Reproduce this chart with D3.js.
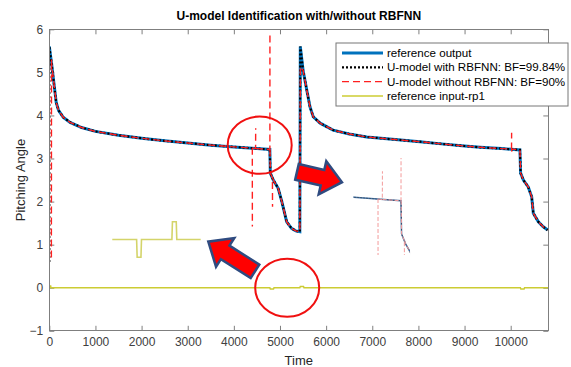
<!DOCTYPE html>
<meta charset="utf-8">
<style>

body {
  margin: 0;
  background: #fff;
}

svg {
  font-family: "Liberation Sans", Arial, sans-serif;
}

.axis path {
  display: none;
}

.axis line {
  stroke: #7f7f7f;
}

.axis text {
  fill: #404040;
  font-size: 12px;
}

.frame {
  fill: none;
  stroke: #7f7f7f;
  shape-rendering: crispEdges;
}

.legend text {
  font-size: 11.6px;
  fill: #000;
}

</style>
<body>
<script src="https://cdn.jsdelivr.net/npm/d3@7"></script>
<script>

var width = 571,
    height = 367;

// reference output (time, pitching angle)
var refOutput = [
  [0, 5.6], [50, 5.2], [100, 4.75], [150, 4.3], [200, 4.12], [300, 3.96], [450, 3.84],
  [700, 3.72], [1000, 3.63], [1500, 3.54], [2000, 3.47], [2500, 3.41], [3000, 3.36],
  [3500, 3.31], [4000, 3.27], [4500, 3.23], [4780, 3.21], [4790, 2.66], [4855, 2.5],
  [4960, 2.31], [5040, 2.0], [5145, 1.53], [5250, 1.38], [5340, 1.32], [5430, 1.3],
  [5440, 5.6], [5500, 5.05], [5580, 4.59], [5650, 4.2], [5720, 3.97], [5870, 3.82],
  [6150, 3.66], [6500, 3.57], [6880, 3.5], [7500, 3.44], [8030, 3.39], [8500, 3.34],
  [9000, 3.29], [9340, 3.26], [9800, 3.23], [10200, 3.2], [10215, 2.66], [10275, 2.5],
  [10380, 2.34], [10455, 2.11], [10490, 1.73], [10600, 1.53], [10700, 1.42], [10800, 1.34]
];

// U-model with RBFNN: follows the reference, starts from a low value
var rbfStart = [[0, 0.6]];

// U-model without RBFNN: deviations from the reference (null = pen lifted)
var noRbfSpikes = [
  [45, 0.7], [48, 5.3],
  [4400, 3.24], [4401, 1.42], [4402, null], [4404, 3.24],
  [4471, 3.23], [4473, 3.7], [4474, null], [4476, 3.23],
  [4781, 3.21], [4782, 5.87], [4783, null], [4784, 3.21],
  [4836, 2.55], [4838, 1.88], [4839, null], [4841, 2.55],
  [5441, 5.13],
  [10018, 3.22], [10020, 3.6], [10021, null], [10022, 3.16], [10024, 3.22]
];

// reference input rp1
var refInput = [
  [0, 0], [10, 0.04], [30, 0.04], [35, 0], [4780, 0], [4790, -0.03], [4860, -0.03],
  [4870, 0], [5430, 0], [5440, 0.03], [5510, 0.03], [5520, 0], [10210, 0],
  [10220, -0.03], [10290, -0.03], [10300, 0], [10815, 0]
];

var xTicks = [0, 1000, 2000, 3000, 4000, 5000, 6000, 7000, 8000, 9000, 10000],
    yTicks = [-1, 0, 1, 2, 3, 4, 5, 6];

var legendLabels = [
  "reference output",
  "U-model with RBFNN: BF=99.84%",
  "U-model without RBFNN: BF=90%",
  "reference input-rp1"
];

// annotations, in data units
var circles = [
  {t: 4560, v: 3.31, rx: 32, ry: 28.7},
  {t: 5156, v: 0.0, rx: 32, ry: 29}
];
var arrows = [
  {from: [4458, 0.38], to: [3446, 1.07]},
  {from: [5368, 2.69], to: [6343, 2.45]}
];

var noRbfOutput = refOutput
    .filter(function(d) { return d[0] >= 50 && d[0] !== 5440; })
    .concat(noRbfSpikes)
    .sort(function(a, b) { return a[0] - b[0]; });

var rbfOutput = rbfStart.concat(refOutput);

var series = [
  {data: refOutput, color: "#0072bd", width: 3, dash: null},
  {data: rbfOutput, color: "#000", width: 2.2, dash: "2,2"},
  {data: noRbfOutput, color: "#ff2020", width: 1.4, dash: "7,4"},
  {data: refInput, color: "#cccc33", width: 1.5, dash: null}
];

var margin = {left: 49.3, right: 548.3, top: 29.3, bottom: 330.8};

var x = d3.scaleLinear().domain([0, 10815]).range([margin.left, margin.right]);
var y = d3.scaleLinear().domain([-1, 6]).range([margin.bottom, margin.top]);

var svg = d3.select("body").append("svg")
    .attr("width", width)
    .attr("height", height);

svg.append("clipPath").attr("id", "plot-clip")
  .append("rect")
    .attr("x", margin.left).attr("y", margin.top)
    .attr("width", margin.right - margin.left)
    .attr("height", margin.bottom - margin.top);

// axes, MATLAB style: ticks inside on all four sides
svg.append("g").attr("class", "axis")
    .attr("transform", "translate(0," + margin.bottom + ")")
    .call(d3.axisBottom(x).tickValues(xTicks).tickFormat(d3.format("d"))
      .tickSizeInner(-5).tickSizeOuter(0).tickPadding(7));
svg.append("g").attr("class", "axis")
    .attr("transform", "translate(0," + margin.top + ")")
    .call(d3.axisTop(x).tickValues(xTicks).tickSizeInner(-5).tickSizeOuter(0).tickFormat(""));
svg.append("g").attr("class", "axis")
    .attr("transform", "translate(" + margin.left + ",0)")
    .call(d3.axisLeft(y).tickValues(yTicks).tickFormat(d3.format("d"))
      .tickSizeInner(-5).tickSizeOuter(0).tickPadding(6));
svg.append("g").attr("class", "axis")
    .attr("transform", "translate(" + margin.right + ",0)")
    .call(d3.axisRight(y).tickValues(yTicks).tickSizeInner(-5).tickSizeOuter(0).tickFormat(""));

var line = d3.line()
    .defined(function(d) { return d[1] != null; })
    .x(function(d) { return x(d[0]); })
    .y(function(d) { return y(d[1]); });

var plot = svg.append("g").attr("clip-path", "url(#plot-clip)");

plot.selectAll("path.series")
    .data(series)
  .enter().append("path")
    .attr("class", "series")
    .attr("fill", "none")
    .attr("stroke", function(d) { return d.color; })
    .attr("stroke-width", function(d) { return d.width; })
    .attr("stroke-dasharray", function(d) { return d.dash; })
    .attr("d", function(d) { return line(d.data); });

svg.append("rect")
    .attr("class", "frame")
    .attr("x", margin.left).attr("y", margin.top)
    .attr("width", margin.right - margin.left)
    .attr("height", margin.bottom - margin.top);

// inset 1: zoom of the input around t = 4300..6000
var in1 = d3.scaleLinear().domain([4332, 5960]).range([x(1365), x(3281)]);
var in1y = d3.scaleLinear().domain([-0.03, 0.03]).range([y(1.12) + 17.7, y(1.12) - 17.7]);
svg.append("clipPath").attr("id", "inset1-clip")
  .append("rect")
    .attr("x", x(1365)).attr("y", y(1.12) - 22)
    .attr("width", x(3281) - x(1365)).attr("height", 44);
svg.append("path")
    .attr("clip-path", "url(#inset1-clip)")
    .attr("fill", "none")
    .attr("stroke", "#d4d46a")
    .attr("stroke-width", 1.6)
    .attr("d", d3.line()
      .x(function(d) { return in1(d[0]); })
      .y(function(d) { return in1y(d[1]); })(refInput));

// inset 2: zoom of the outputs around t = 4000..4900
var in2 = d3.scaleLinear().domain([3991, 4930]).range([x(6589), x(7818)]);
var in2y = d3.scaleLinear().domain([3.92, 2.31]).range([158, 255]);
svg.append("clipPath").attr("id", "inset-clip")
  .append("rect")
    .attr("x", x(6589)).attr("y", 158)
    .attr("width", x(7818) - x(6589)).attr("height", 97);
var inLine = d3.line()
    .defined(function(d) { return d[1] != null; })
    .x(function(d) { return in2(d[0]); })
    .y(function(d) { return in2y(d[1]); });
var inset = svg.append("g").attr("clip-path", "url(#inset-clip)");
inset.append("path").attr("fill", "none").attr("stroke", "#3f6fa3").attr("stroke-width", 1.5)
    .attr("d", inLine(refOutput));
inset.append("path").attr("fill", "none").attr("stroke", "#333").attr("stroke-width", 0.8)
    .attr("stroke-dasharray", "1.5,1.5").attr("opacity", 0.7)
    .attr("d", inLine(rbfOutput));
inset.append("path").attr("fill", "none").attr("stroke", "#f39a9a").attr("stroke-width", 1)
    .attr("stroke-dasharray", "4,2")
    .attr("d", inLine(noRbfOutput.filter(function(d) { return d[0] >= 4300; })));

// red ellipses
svg.selectAll("ellipse.mark")
    .data(circles)
  .enter().append("ellipse")
    .attr("class", "mark")
    .attr("cx", function(d) { return x(d.t); })
    .attr("cy", function(d) { return y(d.v); })
    .attr("rx", function(d) { return d.rx; })
    .attr("ry", function(d) { return d.ry; })
    .attr("fill", "none")
    .attr("stroke", "#f01010")
    .attr("stroke-width", 2);

// block arrows
function arrowPoints(d) {
  var x0 = x(d.from[0]), y0 = y(d.from[1]),
      x1 = x(d.to[0]), y1 = y(d.to[1]),
      len = Math.hypot(x1 - x0, y1 - y0),
      ux = (x1 - x0) / len, uy = (y1 - y0) / len,
      nx = -uy, ny = ux,
      s = 8, h = 17, L = 20,
      bx = x1 - ux * L, by = y1 - uy * L;
  return [
    [x0 + nx * s, y0 + ny * s], [bx + nx * s, by + ny * s], [bx + nx * h, by + ny * h],
    [x1, y1],
    [bx - nx * h, by - ny * h], [bx - nx * s, by - ny * s], [x0 - nx * s, y0 - ny * s]
  ].join(" ");
}

svg.selectAll("polygon.arrow")
    .data(arrows)
  .enter().append("polygon")
    .attr("class", "arrow")
    .attr("points", arrowPoints)
    .attr("fill", "#ff0000")
    .attr("stroke", "#2f4b80")
    .attr("stroke-width", 2.5)
    .attr("stroke-linejoin", "miter");

// legend
var legend = svg.append("g").attr("class", "legend")
    .attr("transform", "translate(336,43)");
legend.append("rect")
    .attr("width", 232).attr("height", 63)
    .attr("fill", "#fff").attr("stroke", "#777").attr("stroke-width", 1);
var row = legend.selectAll("g.row")
    .data(series)
  .enter().append("g")
    .attr("class", "row")
    .attr("transform", function(d, i) { return "translate(0," + (10 + i * 14.3) + ")"; });
row.append("line")
    .attr("x1", 6).attr("x2", 47)
    .attr("stroke", function(d) { return d.color; })
    .attr("stroke-width", function(d) { return d.width; })
    .attr("stroke-dasharray", function(d) { return d.dash; });
row.append("text")
    .attr("x", 51).attr("dy", "0.35em")
    .text(function(d, i) { return legendLabels[i]; });

// titles
svg.append("text")
    .attr("x", (margin.left + margin.right) / 2).attr("y", 20)
    .attr("text-anchor", "middle")
    .style("font-weight", "bold").style("font-size", "12px")
    .text("U-model Identification with/without RBFNN");
svg.append("text")
    .attr("x", (margin.left + margin.right) / 2).attr("y", 364.5)
    .attr("text-anchor", "middle")
    .style("font-size", "13px").style("fill", "#262626")
    .text("Time");
svg.append("text")
    .attr("transform", "translate(25," + (margin.top + margin.bottom) / 2 + ")rotate(-90)")
    .attr("text-anchor", "middle")
    .style("font-size", "13px").style("fill", "#262626")
    .text("Pitching Angle");

</script>
